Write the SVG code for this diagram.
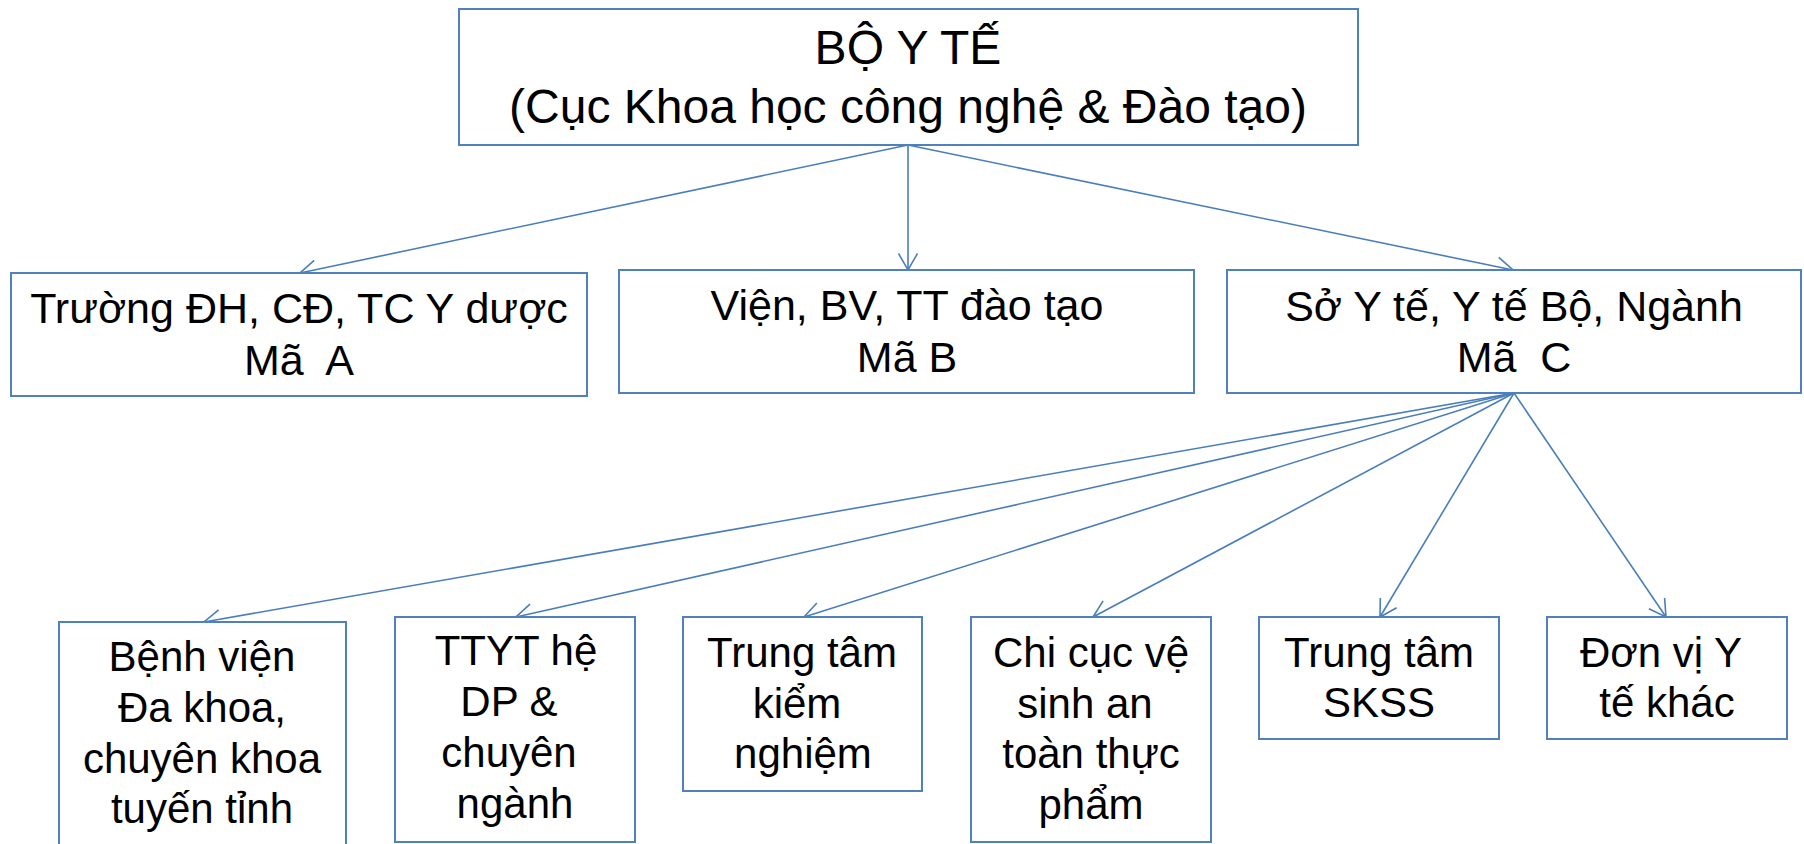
<svg xmlns="http://www.w3.org/2000/svg" width="1804" height="844" viewBox="0 0 1804 844">
<style>
.box{fill:#fff;stroke:#4F81BD;stroke-width:2}
.t{font-family:"Liberation Sans",Arial,sans-serif;fill:#000;text-anchor:middle}
.f48{font-size:48px}
.f43{font-size:43px}
.f42{font-size:42px}
.c{stroke:#4A7EBB;stroke-width:1.6;fill:none;marker-end:url(#ah)}
</style>
<defs>
<marker id="ah" markerUnits="userSpaceOnUse" markerWidth="40" markerHeight="40" viewBox="-20 -20 40 40" refX="0" refY="0" orient="auto">
<path d="M-16.5,-9.5 L0,0 L-16.5,9.5" fill="none" stroke="#4A7EBB" stroke-width="1.6"/>
</marker>
</defs>
<rect width="1804" height="844" fill="#fff"/>
<g id="connectors">
<line class="c" x1="908" y1="145" x2="300" y2="273"/>
<line class="c" x1="908" y1="145" x2="908" y2="270"/>
<line class="c" x1="908" y1="145" x2="1513" y2="270"/>
<line class="c" x1="1514" y1="393" x2="204" y2="622"/>
<line class="c" x1="1514" y1="393" x2="516" y2="617"/>
<line class="c" x1="1514" y1="393" x2="804" y2="617"/>
<line class="c" x1="1514" y1="393" x2="1093" y2="617"/>
<line class="c" x1="1514" y1="393" x2="1380" y2="617"/>
<line class="c" x1="1514" y1="393" x2="1666" y2="617"/>
</g>
<g id="boyte">
<rect class="box" x="459" y="9" width="899" height="136"/>
<text class="t f48" x="908" y="64">BỘ Y TẾ</text>
<text class="t f48" x="908" y="123">(Cục Khoa học công nghệ &amp; Đào tạo)</text>
</g>
<g id="maA">
<rect class="box" x="11" y="273" width="576" height="123"/>
<text class="t f43" x="299" y="323">Trường ĐH, CĐ, TC Y dược</text>
<text class="t f43" x="299" y="375" xml:space="preserve">Mã  A</text>
</g>
<g id="maB">
<rect class="box" x="619" y="270" width="575" height="123"/>
<text class="t f43" x="907" y="320">Viện, BV, TT đào tạo</text>
<text class="t f43" x="907" y="372">Mã B</text>
</g>
<g id="maC">
<rect class="box" x="1227" y="270" width="574" height="123"/>
<text class="t f43" x="1514" y="321">Sở Y tế, Y tế Bộ, Ngành</text>
<text class="t f43" x="1514" y="372" xml:space="preserve">Mã  C</text>
</g>
<g id="benhvien">
<rect class="box" x="59" y="622" width="287" height="250"/>
<text class="t f42" x="202" y="671">Bệnh viện</text>
<text class="t f42" x="202" y="722">Đa khoa,</text>
<text class="t f42" x="202" y="773">chuyên khoa</text>
<text class="t f42" x="202" y="823">tuyến tỉnh</text>
</g>
<g id="ttyt">
<rect class="box" x="395" y="617" width="240" height="225"/>
<text class="t f42" x="516" y="665">TTYT hệ</text>
<text class="t f42" x="509" y="716">DP &amp;</text>
<text class="t f42" x="509" y="767">chuyên</text>
<text class="t f42" x="515" y="818">ngành</text>
</g>
<g id="kiemnghiem">
<rect class="box" x="683" y="617" width="239" height="174"/>
<text class="t f42" x="802" y="667">Trung tâm</text>
<text class="t f42" x="797" y="718">kiểm</text>
<text class="t f42" x="803" y="768">nghiệm</text>
</g>
<g id="chicuc">
<rect class="box" x="971" y="617" width="240" height="225"/>
<text class="t f42" x="1091" y="667">Chi cục vệ</text>
<text class="t f42" x="1085" y="718">sinh an</text>
<text class="t f42" x="1091" y="768">toàn thực</text>
<text class="t f42" x="1091" y="819">phẩm</text>
</g>
<g id="skss">
<rect class="box" x="1259" y="617" width="240" height="122"/>
<text class="t f42" x="1379" y="667">Trung tâm</text>
<text class="t f42" x="1379" y="717">SKSS</text>
</g>
<g id="donvi">
<rect class="box" x="1547" y="617" width="240" height="122"/>
<text class="t f42" x="1661" y="667">Đơn vị Y</text>
<text class="t f42" x="1667" y="717">tế khác</text>
</g>
</svg>
